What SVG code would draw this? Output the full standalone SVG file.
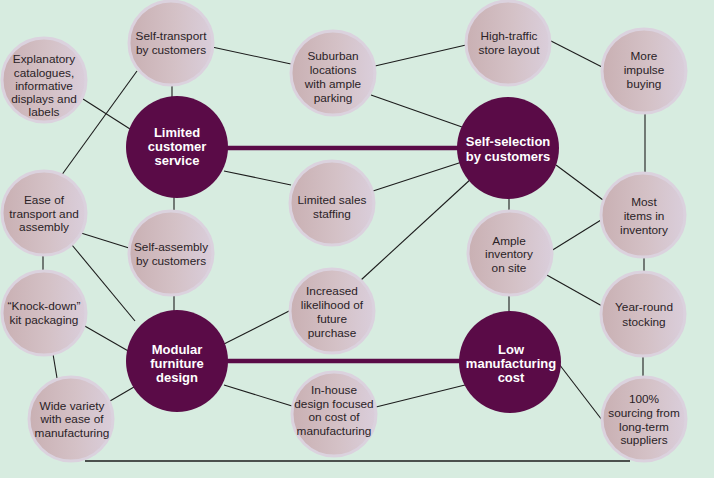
<svg xmlns="http://www.w3.org/2000/svg" width="714" height="478" viewBox="0 0 714 478">
<defs>
<linearGradient id="g" x1="0" y1="0" x2="1" y2="0">
<stop offset="0" stop-color="#c9b0b3"/>
<stop offset="0.55" stop-color="#d4c1c6"/>
<stop offset="1" stop-color="#dacedb"/>
</linearGradient>
<style>
.s{fill:url(#g);stroke:#dbd2de;stroke-width:3}
.d{fill:#5a0b47}
.t{font-family:"Liberation Sans",Arial,sans-serif;font-size:11.8px;fill:#2a2226;text-anchor:middle}
.b{font-family:"Liberation Sans",Arial,sans-serif;font-size:13px;font-weight:bold;fill:#ffffff;text-anchor:middle}
.l{stroke:#1c1c1c;stroke-width:1.1;fill:none}
.k{stroke:#5a0b47;stroke-width:4.5;fill:none}
</style>
</defs>
<rect width="714" height="478" fill="#d7ece0"/>
<g id="connectors">
<line class="k" x1="220" y1="148" x2="465" y2="148"/>
<line class="k" x1="220" y1="361" x2="465" y2="361"/>
<line class="l" x1="83" y1="99" x2="130" y2="129"/>
<line class="l" x1="172" y1="84" x2="172" y2="99"/>
<line class="l" x1="137" y1="71" x2="61" y2="176"/>
<line class="l" x1="212" y1="47" x2="291" y2="64"/>
<line class="l" x1="375" y1="66" x2="466" y2="45"/>
<line class="l" x1="371" y1="95" x2="462" y2="127"/>
<line class="l" x1="551" y1="41" x2="602" y2="67"/>
<line class="l" x1="645" y1="113" x2="645" y2="174"/>
<line class="l" x1="224" y1="171" x2="291" y2="185"/>
<line class="l" x1="373" y1="191" x2="462" y2="162"/>
<line class="l" x1="174" y1="195" x2="174" y2="213"/>
<line class="l" x1="174" y1="295" x2="174" y2="312"/>
<line class="l" x1="81" y1="233" x2="129" y2="248"/>
<line class="l" x1="72" y1="245" x2="135" y2="321"/>
<line class="l" x1="43" y1="255" x2="43" y2="272"/>
<line class="l" x1="83" y1="325" x2="130" y2="352"/>
<line class="l" x1="53" y1="354" x2="57" y2="378"/>
<line class="l" x1="110" y1="401" x2="134" y2="387"/>
<line class="l" x1="224" y1="344" x2="291" y2="310"/>
<line class="l" x1="224" y1="385" x2="292" y2="406"/>
<line class="l" x1="376" y1="407" x2="465" y2="385"/>
<line class="l" x1="361" y1="280" x2="472" y2="178"/>
<line class="l" x1="556" y1="165" x2="603" y2="200"/>
<line class="l" x1="509" y1="196" x2="509" y2="212"/>
<line class="l" x1="551" y1="251" x2="601" y2="220"/>
<line class="l" x1="545" y1="274" x2="602" y2="306"/>
<line class="l" x1="509" y1="295" x2="509" y2="314"/>
<line class="l" x1="644" y1="257" x2="644" y2="272"/>
<line class="l" x1="643" y1="356" x2="643" y2="377"/>
<line class="l" x1="559" y1="364" x2="602" y2="420"/>
<line x1="85" y1="461" x2="630" y2="461" stroke="#1c1c1c" stroke-width="1.4"/>
</g>
<g id="self-transport"><circle class="s" cx="171" cy="43" r="42"/><text class="t" x="171" y="40">Self-transport</text><text class="t" x="171" y="54">by customers</text></g>
<g id="explanatory"><circle class="s" cx="44" cy="80" r="42"/><text class="t" x="44" y="63">Explanatory</text><text class="t" x="44" y="77">catalogues,</text><text class="t" x="44" y="90">informative</text><text class="t" x="44" y="103">displays and</text><text class="t" x="44" y="116">labels</text></g>
<g id="suburban"><circle class="s" cx="333" cy="73" r="42"/><text class="t" x="333" y="60">Suburban</text><text class="t" x="333" y="74">locations</text><text class="t" x="333" y="88">with ample</text><text class="t" x="333" y="102">parking</text></g>
<g id="high-traffic"><circle class="s" cx="508" cy="43" r="42"/><text class="t" x="509" y="40">High-traffic</text><text class="t" x="509" y="54">store layout</text></g>
<g id="impulse"><circle class="s" cx="644" cy="71" r="42"/><text class="t" x="644" y="60">More</text><text class="t" x="644" y="74">impulse</text><text class="t" x="644" y="88">buying</text></g>
<g id="limited-service"><circle class="d" cx="177" cy="147" r="51"/><text class="b" x="177" y="137">Limited</text><text class="b" x="177" y="151">customer</text><text class="b" x="177" y="165">service</text></g>
<g id="self-selection"><circle class="d" cx="508" cy="148" r="51"/><text class="b" x="508" y="146">Self-selection</text><text class="b" x="508" y="161">by customers</text></g>
<g id="ease"><circle class="s" cx="44" cy="213" r="42"/><text class="t" x="44" y="204">Ease of</text><text class="t" x="44" y="218">transport and</text><text class="t" x="44" y="231">assembly</text></g>
<g id="self-assembly"><circle class="s" cx="171" cy="253" r="42"/><text class="t" x="171" y="251">Self-assembly</text><text class="t" x="171" y="265">by customers</text></g>
<g id="sales-staffing"><circle class="s" cx="332" cy="203" r="42"/><text class="t" x="332" y="204">Limited sales</text><text class="t" x="332" y="218">staffing</text></g>
<g id="ample"><circle class="s" cx="510" cy="253" r="42"/><text class="t" x="509" y="245">Ample</text><text class="t" x="509" y="258">inventory</text><text class="t" x="509" y="272">on site</text></g>
<g id="most-items"><circle class="s" cx="643" cy="215" r="42"/><text class="t" x="644" y="206">Most</text><text class="t" x="644" y="220">items in</text><text class="t" x="644" y="234">inventory</text></g>
<g id="knock-down"><circle class="s" cx="44" cy="313" r="42"/><text class="t" x="44" y="310">“Knock-down”</text><text class="t" x="44" y="324">kit packaging</text></g>
<g id="increased"><circle class="s" cx="332" cy="311" r="42"/><text class="t" x="332" y="295">Increased</text><text class="t" x="332" y="309">likelihood of</text><text class="t" x="332" y="323">future</text><text class="t" x="332" y="337">purchase</text></g>
<g id="year-round"><circle class="s" cx="643" cy="314" r="42"/><text class="t" x="644" y="311">Year-round</text><text class="t" x="644" y="326">stocking</text></g>
<g id="modular"><circle class="d" cx="177" cy="361" r="51"/><text class="b" x="177" y="354">Modular</text><text class="b" x="177" y="368">furniture</text><text class="b" x="177" y="382">design</text></g>
<g id="low-cost"><circle class="d" cx="510" cy="362" r="51"/><text class="b" x="511" y="354">Low</text><text class="b" x="511" y="368">manufacturing</text><text class="b" x="511" y="382">cost</text></g>
<g id="wide-variety"><circle class="s" cx="71" cy="419" r="42"/><text class="t" x="72" y="410">Wide variety</text><text class="t" x="72" y="423">with ease of</text><text class="t" x="72" y="437">manufacturing</text></g>
<g id="in-house"><circle class="s" cx="334" cy="414" r="42"/><text class="t" x="334" y="394">In-house</text><text class="t" x="334" y="408">design focused</text><text class="t" x="334" y="421">on cost of</text><text class="t" x="334" y="435">manufacturing</text></g>
<g id="sourcing"><circle class="s" cx="644" cy="419" r="42"/><text class="t" x="644" y="403">100%</text><text class="t" x="644" y="417">sourcing from</text><text class="t" x="644" y="431">long-term</text><text class="t" x="644" y="444">suppliers</text></g>
</svg>
